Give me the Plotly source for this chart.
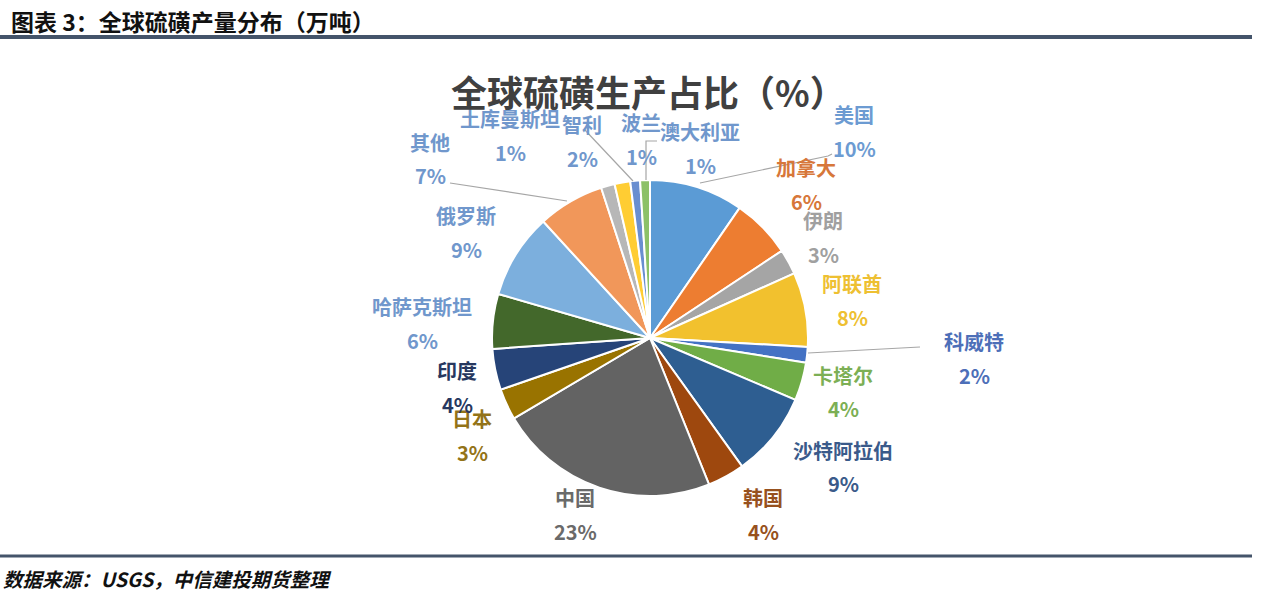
"""全球硫磺生产占比 pie chart (USGS data) rebuilt with Plotly."""

import plotly.graph_objects as go

# ---- data ----
countries = [
    "美国", "加拿大", "伊朗", "阿联酋", "科威特", "卡塔尔", "沙特阿拉伯", "韩国", "中国",
    "日本", "印度", "哈萨克斯坦", "俄罗斯", "其他", "土库曼斯坦", "智利", "波兰", "澳大利亚",
]
shares = [9.6, 6.1, 2.6, 7.6, 1.6, 3.9, 8.7, 3.8, 22.6, 3.2, 4.2, 5.6, 8.7, 6.8, 1.4, 1.6, 1.0, 1.0]

page_title = "图表 3：全球硫磺产量分布（万吨）"
chart_title = "全球硫磺生产占比（%）"
source_note = "数据来源：USGS，中信建投期货整理"

# ---- styling ----
W, H = 1280, 601
FONT = "Noto Sans CJK SC"
slice_colors = [
    "#5B9BD5", "#ED7D31", "#A5A5A5", "#F2C12E", "#4472C4", "#70AD47", "#2E5E91", "#9E480E", "#636363",
    "#997300", "#264478", "#43682B", "#7CAFDD", "#F1975A", "#B7B7B7", "#FFCD33", "#698ED0", "#8CC168",
]
label_colors = [
    "#6C9BD2", "#D7773A", "#A0A0A0", "#EEC032", "#4D6FB8", "#7CAF55", "#3A5A8A", "#97511E", "#6A6A6A",
    "#937318", "#27385F", "#7097CC", "#7097CC", "#7097CC", "#7097CC", "#7097CC", "#7097CC", "#7097CC",
]
# centre of each country name (pixels); the percentage sits one line lower
label_pos = [
    (854, 114), (806, 168), (823, 220), (852, 283), (974, 341), (843, 375), (843, 450), (763, 497),
    (575, 497), (472, 418), (457, 370), (422, 306), (466, 215), (430, 142), (510, 118), (582, 124),
    (641, 122), (700, 131),
]
LINE_GAP = 34
# leader lines (pixel polylines)
leaders = [
    [(700, 183), (828, 156), (832, 154)],
    [(646, 180), (646, 141), (657, 141)],
    [(584, 129), (633, 181)],
    [(450, 183), (567, 201)],
    [(808, 353), (920, 347)],
]

CX, CY, R = 650, 338, 158


def px(x):
    return x / W


def py(y):
    return 1 - y / H


total = sum(shares)

fig = go.Figure(
    go.Pie(
        labels=countries,
        values=shares,
        sort=False,
        direction="clockwise",
        rotation=0,
        marker=dict(colors=slice_colors, line=dict(color="white", width=2)),
        textinfo="none",
        hoverinfo="label+percent",
        showlegend=False,
        domain=dict(x=[px(CX - R), px(CX + R)], y=[py(CY + R), py(CY - R)]),
    )
)

annotations = []
for name, val, (x, y), color in zip(countries, shares, label_pos, label_colors):
    pct = f"{round(val / total * 100)}%"
    for text, yy in ((name, y), (pct, y + LINE_GAP)):
        annotations.append(
            dict(
                x=px(x), y=py(yy), xref="paper", yref="paper", text=f"<b>{text}</b>",
                showarrow=False, xanchor="center", yanchor="middle",
                font=dict(family=FONT, size=20, color=color),
            )
        )

# chart + page titles
annotations.append(
    dict(x=px(648), y=py(91), xref="paper", yref="paper", text=f"<b>{chart_title}</b>",
         showarrow=False, xanchor="center", yanchor="middle",
         font=dict(family=FONT, size=36, color="#404040"))
)
annotations.append(
    dict(x=px(9), y=py(21), xref="paper", yref="paper", text=f"<b>{page_title}</b>",
         showarrow=False, xanchor="left", yanchor="middle",
         font=dict(family=FONT, size=23, color="#111111"))
)
annotations.append(
    dict(x=px(1), y=py(578), xref="paper", yref="paper", text=f"<b><i>{source_note}</i></b>",
         showarrow=False, xanchor="left", yanchor="middle",
         font=dict(family=FONT, size=19.5, color="#111111"))
)

shapes = []
for pts in leaders:
    path = "M " + " L ".join(f"{px(x)},{py(y)}" for x, y in pts)
    shapes.append(dict(type="path", path=path, xref="paper", yref="paper",
                       line=dict(color="#A6A6A6", width=1.2)))
# header / footer rules
for y, w in ((37, 4), (556, 3)):
    shapes.append(dict(type="line", xref="paper", yref="paper", x0=0, x1=px(1252),
                       y0=py(y), y1=py(y), line=dict(color="#44546A", width=w)))

fig.update_layout(
    width=W,
    height=H,
    autosize=False,
    margin=dict(l=0, r=0, t=0, b=0),
    paper_bgcolor="white",
    plot_bgcolor="white",
    annotations=annotations,
    shapes=shapes,
)

# drop the default 8px body margin so the figure sits flush with the window
fig.write_html(
    "out.html",
    config={"displayModeBar": False},
    post_script="document.body.style.margin='0';document.body.style.overflow='hidden';",
)
